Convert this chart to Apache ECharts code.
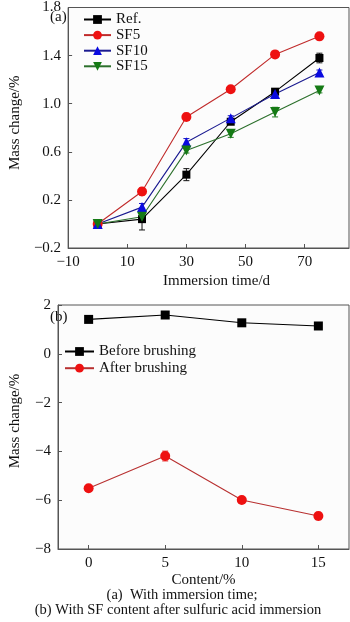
<!DOCTYPE html>
<html><head><meta charset="utf-8">
<script src="https://cdn.jsdelivr.net/npm/echarts@6/dist/echarts.min.js"></script>
<style>html,body{margin:0;padding:0;background:#fff}#c{width:350px;height:622px}</style>
</head><body><div id="c"></div>
<script>
// ---- Data (a): mass change vs immersion time ----
const timeDays = [0, 15, 30, 45, 60, 75];
const timeTicks = [-10, 10, 30, 50, 70];
const refVals  = [0, 0.04, 0.41, 0.85, 1.10, 1.38];
const refErr   = [0.01, 0.09, 0.05, 0.02, 0.02, 0.04];
const sf5Vals  = [0, 0.27, 0.89, 1.12, 1.41, 1.56];
const sf5Err   = [0.01, 0.03, 0.03, 0.01, 0.01, 0.01];
const sf10Vals = [0, 0.14, 0.68, 0.88, 1.08, 1.26];
const sf10Err  = [0.01, 0.03, 0.03, 0.02, 0.02, 0.02];
const sf15Vals = [0, 0.06, 0.61, 0.75, 0.93, 1.11];
const sf15Err  = [0.01, 0.02, 0.02, 0.03, 0.04, 0.02];
// ---- Data (b): mass change vs SF content ----
const contentPct = [0, 5, 10, 15];
const beforeVals = [1.41, 1.59, 1.27, 1.14];
const beforeErr  = [0.03, 0.03, 0.03, 0.03];
const afterVals  = [-5.51, -4.19, -5.99, -6.65];
const afterErr   = [0.05, 0.2, 0.05, 0.15];

const FONT = 'Liberation Serif';
const pair = (xs, ys) => xs.map((x, i) => [x, ys[i]]);
const triple = (xs, ys, es) => xs.map((x, i) => [x, ys[i], es[i]]);
const minus = s => String(s).replace('-', '\u2212');

function errSeries(xs, ys, es, color, gi) {
  return {
    type: 'custom', xAxisIndex: gi, yAxisIndex: gi, z: 1, silent: true,
    data: triple(xs, ys, es),
    renderItem: function (params, api) {
      const x = api.value(0), y = api.value(1), e = api.value(2);
      const lo = api.coord([x, y - e]), hi = api.coord([x, y + e]);
      const w = 3;
      const st = { stroke: color, lineWidth: 1 };
      return { type: 'group', children: [
        { type: 'line', shape: { x1: lo[0], y1: lo[1], x2: hi[0], y2: hi[1] }, style: st },
        { type: 'line', shape: { x1: lo[0] - w, y1: lo[1], x2: lo[0] + w, y2: lo[1] }, style: st },
        { type: 'line', shape: { x1: hi[0] - w, y1: hi[1], x2: hi[0] + w, y2: hi[1] }, style: st }
      ]};
    }
  };
}
function lineSeries(name, xs, ys, sym, size, mColor, lColor, gi, rot) {
  return {
    name: name, type: 'line', xAxisIndex: gi, yAxisIndex: gi, z: 3,
    data: pair(xs, ys), symbol: sym, symbolSize: size, symbolRotate: rot || 0,
    showAllSymbol: true,
    itemStyle: { color: mColor },
    lineStyle: { color: lColor, width: 1.1 }
  };
}

const axisCommon = {
  axisLine: { onZero: false, lineStyle: { color: '#555', width: 1 } },
  axisTick: { inside: true, length: 4, lineStyle: { color: '#555' } },
  splitLine: { show: false },
  axisLabel: { color: '#111', fontFamily: FONT, fontSize: 15, margin: 7 },
  nameTextStyle: { color: '#111', fontFamily: FONT, fontSize: 15 }
};
function ax(extra) {
  const o = JSON.parse(JSON.stringify(axisCommon));
  for (const k in extra) {
    if (typeof extra[k] === 'object' && o[k] && !Array.isArray(extra[k])) Object.assign(o[k], extra[k]);
    else o[k] = extra[k];
  }
  return o;
}

const chart = echarts.init(document.getElementById('c'));
chart.setOption({
  animation: false,
  backgroundColor: '#fff',
  grid: [
    { left: 46, top: 4, width: 303, height: 244, show: true, borderColor: '#555', borderWidth: 1, backgroundColor: '#fcfcfc' },
    { left: 46, top: 305, width: 303, height: 244, show: true, borderColor: '#555', borderWidth: 1, backgroundColor: '#fcfcfc' }
  ],
  xAxis: [
    ax({ type: 'value', gridIndex: 0, min: -10, max: 85,
      name: 'Immersion time/d', nameLocation: 'middle', nameGap: 26,
      nameTextStyle: { padding: [0, 0, 0, 16] },
      axisTick: { customValues: timeTicks },
      axisLabel: { customValues: timeTicks, formatter: v => minus(v) } }),
    ax({ type: 'value', gridIndex: 1, min: -2, max: 17,
      name: 'Content/%', nameLocation: 'middle', nameGap: 24,
      axisTick: { customValues: contentPct },
      axisLabel: { customValues: contentPct, formatter: v => minus(v) } })
  ],
  yAxis: [
    ax({ type: 'value', gridIndex: 0, min: -0.2, max: 1.8, interval: 0.4,
      name: 'Mass change/%', nameLocation: 'middle', nameGap: 35,
      nameTextStyle: { padding: [0, 0, 0, 10] },
      axisLabel: { formatter: v => minus(v.toFixed(1)) } }),
    ax({ type: 'value', gridIndex: 1, min: -8, max: 2, interval: 2,
      name: 'Mass change/%', nameLocation: 'middle', nameGap: 35,
      nameTextStyle: { padding: [0, 0, 0, 12] },
      axisLabel: { formatter: v => minus(v) } })
  ],
  legend: [
    { orient: 'vertical', left: 83, top: 12, padding: 0, itemWidth: 27, itemHeight: 11, itemGap: 0.6,
      data: ['Ref.', 'SF5', 'SF10', 'SF15'],
      textStyle: { fontFamily: FONT, fontSize: 15, color: '#111', lineHeight: 15 } },
    { orient: 'vertical', left: 64, top: 344, padding: 0, itemWidth: 29, itemHeight: 11, itemGap: 1.7,
      data: ['Before brushing', 'After brushing'],
      textStyle: { fontFamily: FONT, fontSize: 15, color: '#111', lineHeight: 15 } }
  ],
  graphic: [
    { type: 'text', x: 50, y: 17, style: { text: '(a)', font: '15px "Liberation Serif"', fill: '#111', textVerticalAlign: 'middle' } },
    { type: 'text', x: 50, y: 317, style: { text: '(b)', font: '15px "Liberation Serif"', fill: '#111', textVerticalAlign: 'middle' } },
    { type: 'text', x: 182, y: 595, style: { text: '(a)  With immersion time;', font: '14.5px "Liberation Serif"', fill: '#111', textAlign: 'center', textVerticalAlign: 'middle' } },
    { type: 'text', x: 178, y: 610, style: { text: '(b) With SF content after sulfuric acid immersion', font: '14.5px "Liberation Serif"', fill: '#111', textAlign: 'center', textVerticalAlign: 'middle' } }
  ],
  series: [
    errSeries(timeDays, refVals, refErr, '#111', 0),
    errSeries(timeDays, sf5Vals, sf5Err, '#e02020', 0),
    errSeries(timeDays, sf10Vals, sf10Err, '#1515c0', 0),
    errSeries(timeDays, sf15Vals, sf15Err, '#1f7a1f', 0),
    lineSeries('Ref.', timeDays, refVals, 'rect', 8, '#000', '#000', 0),
    lineSeries('SF5', timeDays, sf5Vals, 'circle', 10, '#ee1111', '#c02a2a', 0),
    lineSeries('SF10', timeDays, sf10Vals, 'triangle', 10, '#0a0ae0', '#1a1a90', 0),
    lineSeries('SF15', timeDays, sf15Vals, 'triangle', 10, '#157a15', '#2c702c', 0, 180),
    errSeries(contentPct, beforeVals, beforeErr, '#111', 1),
    errSeries(contentPct, afterVals, afterErr, '#e02020', 1),
    lineSeries('Before brushing', contentPct, beforeVals, 'rect', 9, '#000', '#000', 1),
    lineSeries('After brushing', contentPct, afterVals, 'circle', 10, '#ee1111', '#b83030', 1)
  ]
});
</script></body></html>
